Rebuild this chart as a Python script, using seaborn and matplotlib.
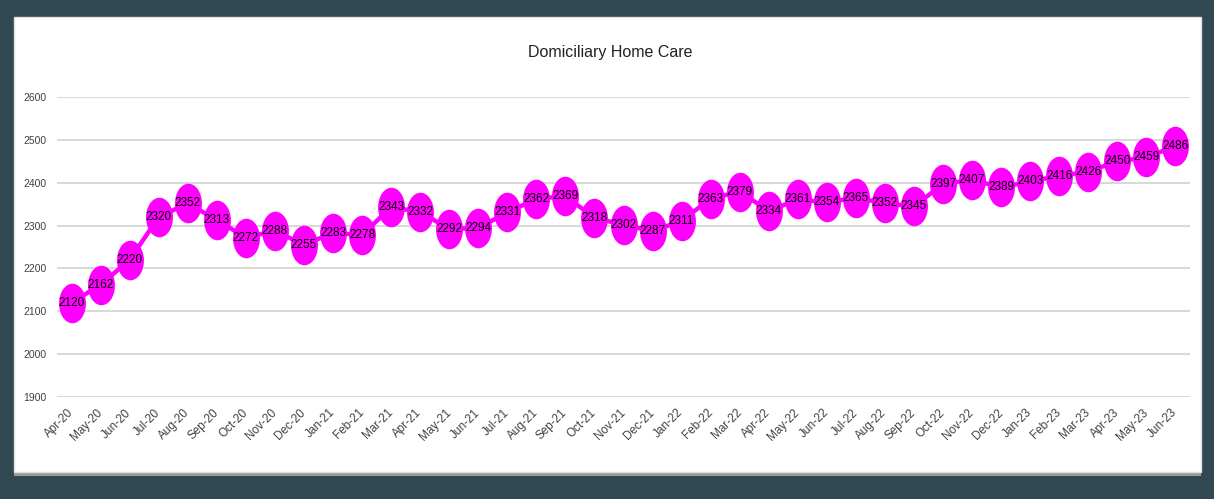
import matplotlib
matplotlib.use("Agg")
import matplotlib.pyplot as plt
from matplotlib.path import Path
from matplotlib.markers import MarkerStyle
from matplotlib.transforms import Affine2D
from matplotlib.patches import Rectangle
import numpy as np
import pandas as pd
import seaborn as sns

# data
months = ["Apr-20", "May-20", "Jun-20", "Jul-20", "Aug-20", "Sep-20", "Oct-20", "Nov-20",
          "Dec-20", "Jan-21", "Feb-21", "Mar-21", "Apr-21", "May-21", "Jun-21", "Jul-21",
          "Aug-21", "Sep-21", "Oct-21", "Nov-21", "Dec-21", "Jan-22", "Feb-22", "Mar-22",
          "Apr-22", "May-22", "Jun-22", "Jul-22", "Aug-22", "Sep-22", "Oct-22", "Nov-22",
          "Dec-22", "Jan-23", "Feb-23", "Mar-23", "Apr-23", "May-23", "Jun-23"]
clients = [2120, 2162, 2220, 2320, 2352, 2313, 2272, 2288, 2255, 2283, 2278, 2343,
           2332, 2292, 2294, 2331, 2362, 2369, 2318, 2302, 2287, 2311, 2363, 2379,
           2334, 2361, 2354, 2365, 2352, 2345, 2397, 2407, 2389, 2403, 2416, 2426,
           2450, 2459, 2486]
y_ticks = [1900, 2000, 2100, 2200, 2300, 2400, 2500, 2600]

df = pd.DataFrame({"pos": np.arange(len(months)), "month": months, "clients": clients})

sns.set_theme(style="white")
fam = ["Liberation Sans", "DejaVu Sans"]
plt.rcParams["font.family"] = fam

W, H = 1214, 499
fig = plt.figure(figsize=(W / 100, H / 100), dpi=100)
fig.patch.set_facecolor("#2F4851")

# white panel with a soft shadow at the bottom
fig.patches.append(Rectangle((14 / W, 1 - 476 / H), 1187 / W, 6 / H, transform=fig.transFigure,
                             facecolor="#9A9A9A", edgecolor="none", zorder=-3))
fig.patches.append(Rectangle((14 / W, 1 - 472 / H), 1187 / W, 455 / H, transform=fig.transFigure,
                             facecolor="white", edgecolor="#E0E0E0", linewidth=1, zorder=-2))

ax = fig.add_axes([57 / W, 1 - 397 / H, (1190 - 57) / W, 300 / H])
ax.set_facecolor("none")
ax.set_zorder(2)

# tall ellipse marker
ell = Path.unit_circle().transformed(Affine2D().scale(0.68, 1.0))
marker = MarkerStyle(ell)

sns.lineplot(data=df, x="pos", y="clients", ax=ax, color="#FF00FF", linewidth=3.2,
             marker=marker, markersize=28.5, markeredgewidth=0, markerfacecolor="#FF00FF",
             zorder=3)

for x, v in zip(df["pos"], df["clients"]):
    ax.text(x, v, str(v), ha="center", va="center", fontsize=8.5, color="#000000",
            zorder=4)

ax.set_xlim(-0.5, len(months) - 0.5)
ax.set_ylim(y_ticks[0], y_ticks[-1])
ax.set_yticks(y_ticks)
ax.set_yticklabels([str(t) for t in y_ticks], fontsize=7.5, color="#404040")
ax.set_xticks(df["pos"])
ax.set_xticklabels(months, rotation=45, ha="right", va="center", rotation_mode="anchor",
                   fontsize=8.5, color="#404040")
ax.tick_params(axis="x", length=0, pad=10)
for lab in ax.get_yticklabels():
    lab.set_horizontalalignment("left")
ax.tick_params(axis="y", length=0, pad=24)

ax.grid(axis="y", color="#D9D9D9", linewidth=1.5)
ax.grid(axis="x", visible=False)
for s in ax.spines.values():
    s.set_visible(False)
ax.set_xlabel("")
ax.set_ylabel("")

fig.text(610 / W, 1 - 53 / H, "Domiciliary Home Care", ha="center", va="center",
         fontsize=11.5, color="#222222")

fig.savefig("out.png", dpi=100, facecolor=fig.get_facecolor())
